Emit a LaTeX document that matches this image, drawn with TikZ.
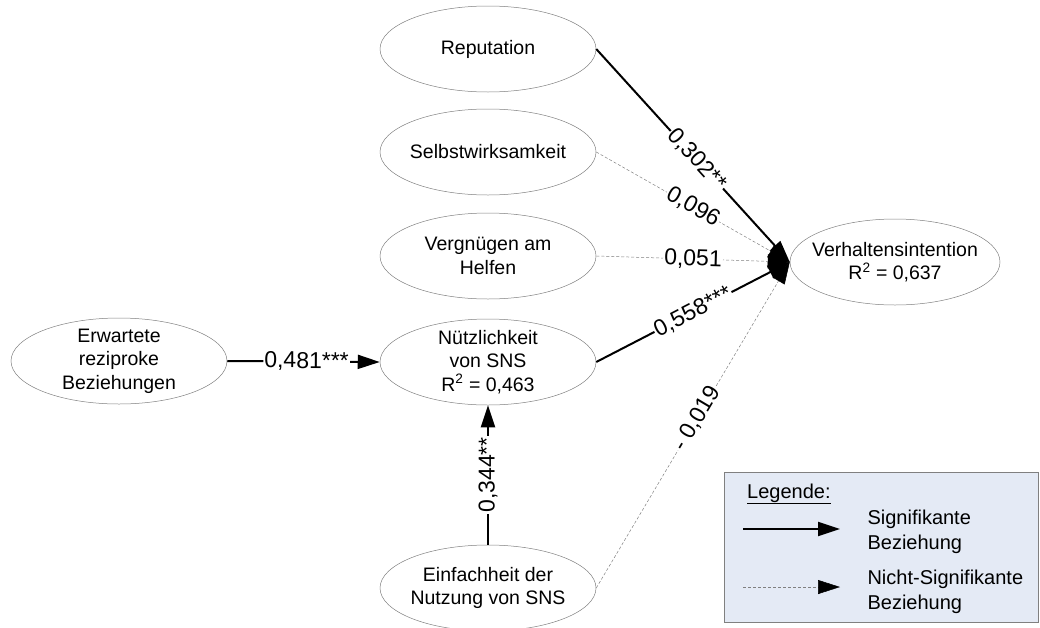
\documentclass[tikz,border=0pt]{standalone}
\usepackage{fontspec}
\setmainfont{Liberation Sans}
\usetikzlibrary{arrows.meta,shapes.geometric}
\definecolor{legendfill}{RGB}{228,234,245}
\definecolor{rimgray}{RGB}{128,128,128}
\begin{document}
\begin{tikzpicture}[x=1pt,y=-1pt,
  construct/.style={ellipse, draw=rimgray, line width=0.5pt, minimum width=216pt,
    minimum height=86pt, inner xsep=-28pt, inner ysep=-16pt, align=center,
    font=\fontsize{19.5}{23.5}\selectfont},
  headtip/.tip={Triangle[length=22pt,width=14pt,color=black]},
  sig/.style={draw=black, line width=2pt, -headtip},
  nsig/.style={draw=rimgray, line width=0.5pt, dash pattern=on 3pt off 2pt, -headtip},
  coef/.style={fill=white, inner sep=1pt, sloped, font=\fontsize{23}{26}\selectfont},
  legtext/.style={anchor=west, align=left, font=\fontsize{20}{24.5}\selectfont}
]
\useasboundingbox (0,0) rectangle (1040,627);

% constructs of the model
\node[construct] (rep)  at (488,49)  {Reputation};
\node[construct] (self) at (488,152) {Selbstwirksamkeit};
\node[construct] (verg) at (488,256) {Vergnügen am\\Helfen};
\node[construct] (nutz) at (488,362) {Nützlichkeit\\von SNS\\R\textsuperscript{2} = 0,463};
\node[construct] (erw)  at (119,361) {Erwartete\\reziproke\\Beziehungen};
\node[construct] (einf) at (488,588) {Einfachheit der\\Nutzung von SNS};
\node[construct, minimum width=210pt] (vi) at (895,262) {Verhaltensintention\\R\textsuperscript{2} = 0,637};

% paths into the intention
\draw[sig]  (rep.east)  -- node[coef, pos=0.52] {0,302**}  (vi.west);
\draw[nsig] (self.east) -- node[coef] {0,096}    (vi.west);
\draw[nsig] (verg.east) -- node[coef] {0,051}    (vi.west);
\draw[sig]  (nutz.east) -- node[coef] {0,558***} (vi.west);
\draw[nsig] (einf.east) -- node[coef, pos=0.52] {- 0,019} (vi.west);

% paths into perceived usefulness
\draw[sig] (erw.east)  -- node[coef, pos=0.52] {0,481***} (nutz.west);
\draw[sig] (einf.north) -- node[coef] {0,344**} (nutz.south);

% legend
\node[draw=rimgray, fill=legendfill, line width=0.8pt, minimum width=314pt,
  minimum height=150pt, inner sep=0pt] (legend) at (881,547) {};
\node[anchor=base west, font=\fontsize{20}{24.5}\selectfont, inner sep=0pt]
  (legtitle) at (747,498) {\underline{Legende:}};
\coordinate (s0) at (743,529);
\coordinate (s1) at (840,529);
\coordinate (n0) at (743,587);
\coordinate (n1) at (840,587);
\draw[sig] (s0) -- (s1);
\draw[nsig] (n0) -- (n1);
\node[legtext] (sigtext)  at (864,532) {Signifikante\\Beziehung};
\node[legtext] (nsigtext) at (864,592) {Nicht-Signifikante\\Beziehung};
\end{tikzpicture}
\end{document}
